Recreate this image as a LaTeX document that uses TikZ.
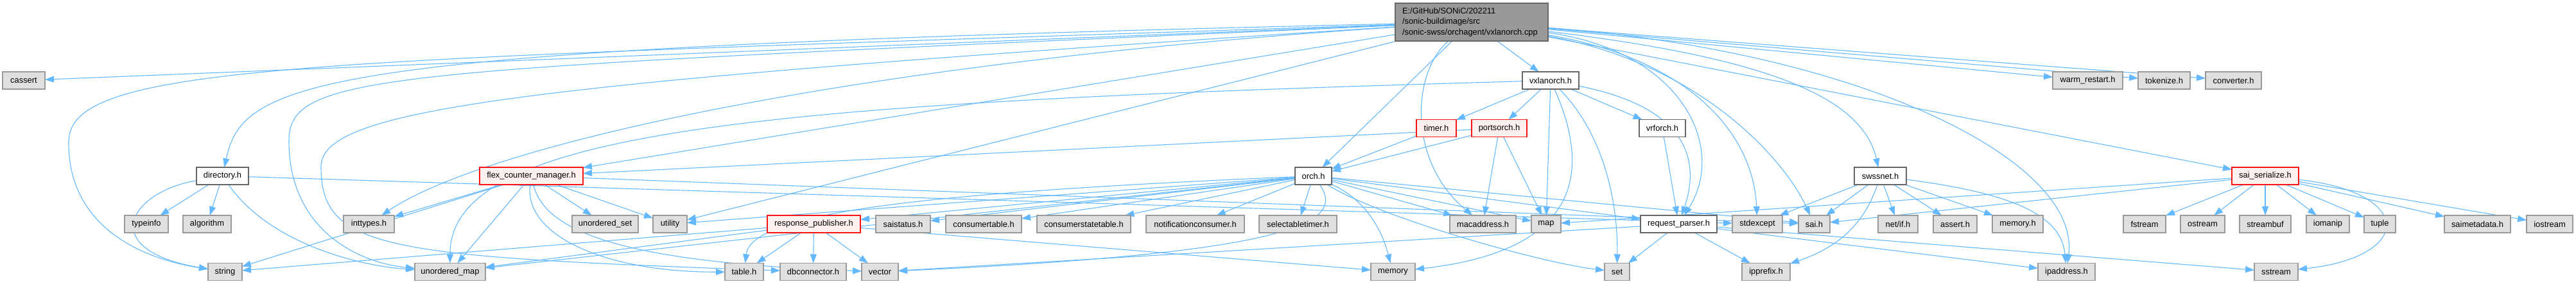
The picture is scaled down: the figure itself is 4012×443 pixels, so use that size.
\documentclass[tikz,border=0pt]{standalone}
\usepackage{fontspec}
\setmainfont{Liberation Sans}
\usepackage{tikz}
\usetikzlibrary{arrows.meta,backgrounds}
\definecolor{EdgeBlue}{RGB}{99,184,255}
\definecolor{SysFill}{RGB}{224,224,224}
\definecolor{SysLine}{RGB}{153,153,153}
\definecolor{DocLine}{RGB}{102,102,102}
\definecolor{TruncFill}{RGB}{255,240,240}
\definecolor{TruncLine}{RGB}{250,20,20}
\definecolor{RootFill}{RGB}{153,153,153}
\tikzset{
  box/.style={line width=1.3pt,minimum height=27pt,inner sep=0pt,outer sep=0pt,
    font=\fontsize{12.9}{16.5}\selectfont},
  w/.style={minimum width=#1pt},
  sys/.style={box,draw=SysLine,fill=SysFill},
  doc/.style={box,draw=DocLine,fill=white},
  trunc/.style={box,draw=TruncLine,fill=TruncFill},
  root/.style={box,draw=DocLine,fill=RootFill,inner xsep=11pt,text width=216pt,align=left,minimum height=59pt},
  edge/.style={draw=EdgeBlue,line width=1.1pt,-{Triangle[length=14pt,width=10pt]}},
}

\begin{document}
\begin{tikzpicture}[x=1pt,y=-1pt]
\useasboundingbox (0,0) rectangle (4012,443);
% top file
\node[root] (main) at (2292,34.5) {E:/GitHub/SONiC/202211\\/sonic-buildimage/src\\/sonic-swss/orchagent/vxlanorch.cpp};
% row 1
\node[sys,w=66] (cassert) at (37,125.5) {cassert};
\node[doc,w=88] (vxlanorch) at (2415,125.5) {vxlanorch.h};
\node[sys,w=109] (warmrestart) at (3251.5,125.5) {warm\_restart.h};
\node[sys,w=81] (tokenize) at (3370.5,125.5) {tokenize.h};
\node[sys,w=87] (converter) at (3478.5,125.5) {converter.h};
% row 2
\node[trunc,w=62] (timer) at (2237,200) {timer.h};
\node[trunc,w=86] (portsorch) at (2335,200) {portsorch.h};
\node[doc,w=72] (vrforch) at (2589,200) {vrforch.h};
% row 3
\node[doc,w=81] (directory) at (346.5,274.5) {directory.h};
\node[trunc,w=161] (flexmgr) at (827.5,274.5) {flex\_counter\_manager.h};
\node[doc,w=57] (orch) at (2045.5,274.5) {orch.h};
\node[doc,w=81] (swssnet) at (2928.5,274.5) {swssnet.h};
\node[trunc,w=104] (saiser) at (3528,274.5) {sai\_serialize.h};
% row 4
\node[sys,w=68] (typeinfo) at (228,349.5) {typeinfo};
\node[sys,w=75] (algorithm) at (322.5,349.5) {algorithm};
\node[sys,w=79] (inttypes) at (574.5,349.5) {inttypes.h};
\node[sys,w=103] (uset) at (942.5,349.5) {unordered\_set};
\node[sys,w=53] (utility) at (1043.5,349.5) {utility};
\node[trunc,w=145] (respub) at (1267.5,349.5) {response\_publisher.h};
\node[sys,w=85] (saistatus) at (1406.5,349.5) {saistatus.h};
\node[sys,w=118] (constable) at (1532,349.5) {consumertable.h};
\node[sys,w=146] (consstate) at (1688,349.5) {consumerstatetable.h};
\node[sys,w=153] (notifcons) at (1861.5,349.5) {notificationconsumer.h};
\node[sys,w=121] (seltimer) at (2021.5,349.5) {selectabletimer.h};
\node[sys,w=103] (macaddr) at (2309.5,349.5) {macaddress.h};
\node[sys,w=46] (map) at (2408,349.5) {map};
\node[doc,w=119] (reqparser) at (2614.5,349.5) {request\_parser.h};
\node[sys,w=78] (stdexcept) at (2737,349.5) {stdexcept};
\node[sys,w=49] (saih) at (2825.5,349.5) {sai.h};
\node[sys,w=62] (netif) at (2956,349.5) {net/if.h};
\node[sys,w=68] (asserth) at (3045,349.5) {assert.h};
\node[sys,w=79] (memoryh) at (3142.5,349.5) {memory.h};
\node[sys,w=66] (fstream) at (3340,349.5) {fstream};
\node[sys,w=69] (ostream) at (3430.5,349.5) {ostream};
\node[sys,w=80] (streambuf) at (3528,349.5) {streambuf};
\node[sys,w=67] (iomanip) at (3625.5,349.5) {iomanip};
\node[sys,w=49] (tuple) at (3706.5,349.5) {tuple};
\node[sys,w=103] (saimeta) at (3858.5,349.5) {saimetadata.h};
\node[sys,w=72] (iostream) at (3971,349.5) {iostream};
% row 5
\node[sys,w=53] (string) at (350.5,424) {string};
\node[sys,w=110] (umap) at (701,424) {unordered\_map};
\node[sys,w=60] (tableh) at (1159,424) {table.h};
\node[sys,w=103] (dbconn) at (1266.5,424) {dbconnector.h};
\node[sys,w=57] (vector) at (1370.5,424) {vector};
\node[sys,w=69] (memory) at (2169.5,424) {memory};
\node[sys,w=39] (set) at (2518.5,424) {set};
\node[sys,w=75] (ipprefix) at (2750.5,424) {ipprefix.h};
\node[sys,w=89] (ipaddr) at (3218.5,424) {ipaddress.h};
\node[sys,w=68] (sstream) at (3545,424) {sstream};
\begin{scope}[on background layer]
% includes of the top file
\draw[edge] (main) -- (cassert);
\draw[edge] (main) .. controls (500,75) and (380,120) .. (directory);
\draw[edge] (main) .. controls (500,95) and (110,95) .. (107,220) .. controls (105,340) and (200,400) .. (string);
\draw[edge] (main) .. controls (600,110) and (450,110) .. (450,220) .. controls (450,360) and (560,410) .. (umap);
\draw[edge] (main) .. controls (800,130) and (500,170) .. (500,260) .. controls (500,390) and (600,400) .. (dbconn);
\draw[edge] (main) .. controls (1300,100) and (750,230) .. (inttypes);
\draw[edge] (main) -- (flexmgr);
\draw[edge] (main) -- (utility);
\draw[edge] (main) -- (orch);
\draw[edge] (main) .. controls (2200,110) and (2190,250) .. (macaddr);
\draw[edge] (main) -- (vxlanorch);
\draw[edge] (main) .. controls (2620,80) and (2690,230) .. (reqparser);
\draw[edge] (main) .. controls (2620,90) and (2730,200) .. (stdexcept);
\draw[edge] (main) .. controls (2650,100) and (2780,250) .. (saih);
\draw[edge] (main) .. controls (2750,90) and (2900,150) .. (swssnet);
\draw[edge] (main) .. controls (2900,80) and (3240,250) .. (ipaddr);
\draw[edge] (main) -- (saiser);
\draw[edge] (main) -- (warmrestart);
\draw[edge] (main) -- (tokenize);
\draw[edge] (main) -- (converter);
% vxlanorch.h
\draw[edge] (vxlanorch) -- (timer);
\draw[edge] (vxlanorch) -- (portsorch);
\draw[edge] (vxlanorch) -- (vrforch);
\draw[edge] (vxlanorch) -- (map);
\draw[edge] (vxlanorch) .. controls (2475,260) and (2470,390) .. (memory);
\draw[edge] (vxlanorch) .. controls (2490,200) and (2520,300) .. (set);
\draw[edge] (vxlanorch) .. controls (2640,170) and (2645,260) .. (reqparser);
\draw[edge] (vxlanorch) .. controls (1200,160) and (700,200) .. (umap);
\draw[edge] (timer) -- (orch);
\draw[edge] (portsorch) -- (orch);
\draw[edge] (portsorch) -- (flexmgr);
\draw[edge] (portsorch) -- (macaddr);
\draw[edge] (portsorch) -- (map);
\draw[edge] (vrforch) -- (reqparser);
% directory.h
\draw[edge] (directory) -- (typeinfo);
\draw[edge] (directory) -- (algorithm);
\draw[edge] (directory) .. controls (200,300) and (150,390) .. (string);
\draw[edge] (directory) .. controls (420,380) and (560,415) .. (umap);
\draw[edge] (directory) -- (stdexcept);
% flex_counter_manager.h
\draw[edge] (flexmgr) -- (inttypes);
\draw[edge] (flexmgr) -- (uset);
\draw[edge] (flexmgr) -- (utility);
\draw[edge] (flexmgr) -- (umap);
\draw[edge] (flexmgr) -- (string);
\draw[edge] (flexmgr) .. controls (815,370) and (950,425) .. (tableh);
\draw[edge] (flexmgr) .. controls (850,370) and (1000,410) .. (vector);
\draw[edge] (flexmgr) -- (saih);
% orch.h
\draw[edge] (orch) -- (respub);
\draw[edge] (orch) -- (saistatus);
\draw[edge] (orch) -- (constable);
\draw[edge] (orch) -- (consstate);
\draw[edge] (orch) -- (notifcons);
\draw[edge] (orch) -- (seltimer);
\draw[edge] (orch) -- (macaddr);
\draw[edge] (orch) -- (map);
\draw[edge] (orch) -- (reqparser);
\draw[edge] (orch) -- (saih);
\draw[edge] (orch) -- (utility);
\draw[edge] (orch) -- (umap);
\draw[edge] (orch) .. controls (1450,300) and (1170,330) .. (tableh);
\draw[edge] (orch) .. controls (2145,320) and (2160,390) .. (memory);
\draw[edge] (orch) .. controls (2150,340) and (2400,410) .. (set);
\draw[edge] (orch) .. controls (2100,350) and (2000,395) .. (vector);
% response_publisher.h
\draw[edge] (respub) -- (tableh);
\draw[edge] (respub) -- (dbconn);
\draw[edge] (respub) -- (vector);
\draw[edge] (respub) -- (umap);
\draw[edge] (respub) -- (string);
\draw[edge] (respub) -- (memory);
% request_parser.h
\draw[edge] (reqparser) -- (vector);
\draw[edge] (reqparser) -- (set);
\draw[edge] (reqparser) -- (ipprefix);
\draw[edge] (reqparser) -- (ipaddr);
\draw[edge] (reqparser) -- (sstream);
% swssnet.h
\draw[edge] (swssnet) -- (stdexcept);
\draw[edge] (swssnet) -- (saih);
\draw[edge] (swssnet) -- (netif);
\draw[edge] (swssnet) -- (asserth);
\draw[edge] (swssnet) -- (memoryh);
\draw[edge] (swssnet) .. controls (2900,360) and (2850,390) .. (ipprefix);
\draw[edge] (swssnet) .. controls (3120,300) and (3210,330) .. (ipaddr);
% sai_serialize.h
\draw[edge] (saiser) -- (fstream);
\draw[edge] (saiser) -- (ostream);
\draw[edge] (saiser) -- (streambuf);
\draw[edge] (saiser) -- (iomanip);
\draw[edge] (saiser) -- (tuple);
\draw[edge] (saiser) -- (saimeta);
\draw[edge] (saiser) -- (iostream);
\draw[edge] (saiser) .. controls (3760,300) and (3760,400) .. (sstream);
\draw[edge] (saiser) -- (map);
\draw[edge] (saiser) -- (saih);
\end{scope}
\end{tikzpicture}
\end{document}
